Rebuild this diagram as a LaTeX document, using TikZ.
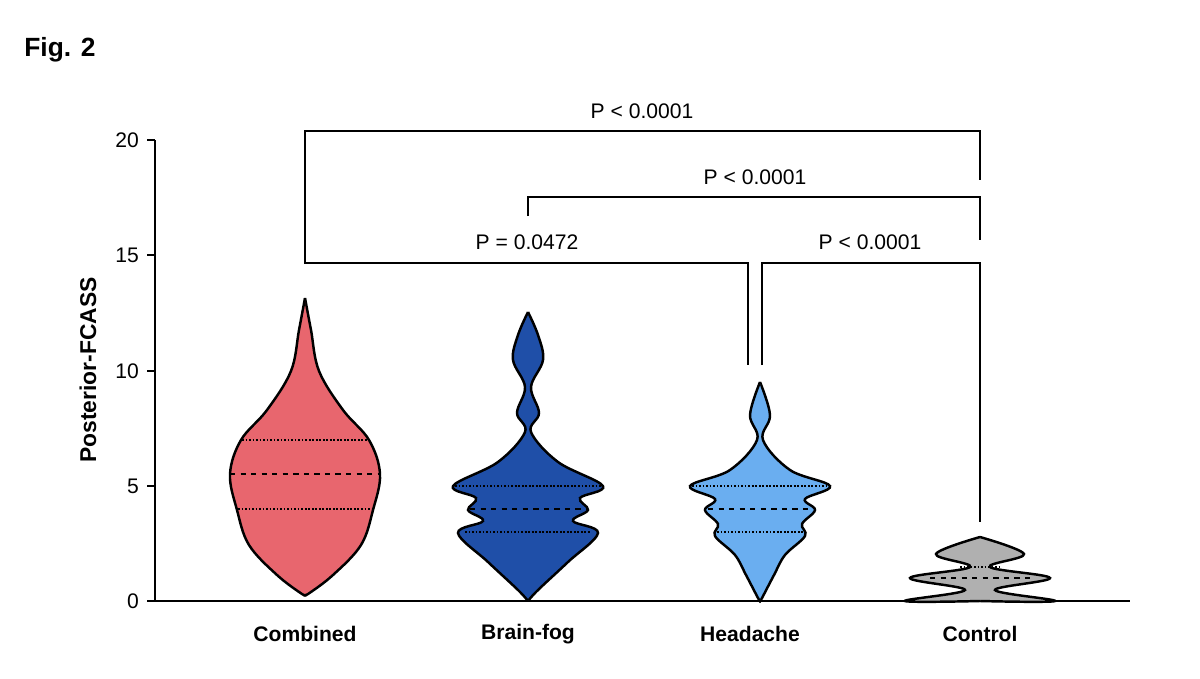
\documentclass[tikz,border=0pt]{standalone}
\usepackage{fontspec}
\setmainfont{Liberation Sans}
\definecolor{combcol}{HTML}{E8666E}
\definecolor{fogcol}{HTML}{1F4FA8}
\definecolor{headcol}{HTML}{6AAEF0}
\definecolor{ctrlcol}{HTML}{B0B0B0}
\newcommand{\halfviolin}[3]{% color, x center, smooth coordinates
  \foreach \sgn in {1,-1}{
    \begin{scope}[shift={(#2,0)},xscale=\sgn]
      \fill[#1] plot[smooth,tension=0.6] coordinates {#3} -- cycle;
      \draw[line width=1.4pt] plot[smooth,tension=0.6] coordinates {#3};
    \end{scope}}}
\begin{document}
\begin{tikzpicture}[x=0.02cm,y=-0.02cm]
\tikzset{quart/.style={densely dotted,line width=1pt},
         median/.style={dashed,line width=1.5pt},
         brk/.style={line width=0.8pt},
         ptxt/.style={font=\fontsize{12}{14}\selectfont}}
\useasboundingbox (0,0) rectangle (1200,679);
\node[font=\bfseries\fontsize{15}{18}\selectfont] (fig) at (60,50) {Fig. 2};
% axes
\draw[line width=1.2pt] (155,140) -- (155,601) -- (1130,601);
\foreach \v/\py in {0/601,5/486,10/371,15/255,20/140}{
  \draw[line width=1.2pt] (147,\py) -- (155,\py);
  \node[anchor=east,font=\fontsize{12}{14}\selectfont] (t\v) at (145,\py) {\v};}
\node[rotate=90,font=\bfseries\fontsize{13}{15}\selectfont] (ylab) at (88,370) {Posterior-FCASS};
% violins
\halfviolin{combcol}{305}{(0,298) (6,330) (14,371) (38,410) (64,440) (75,474) (68,510) (56,545) (28,575) (3,594) (0,594)}
\halfviolin{fogcol}{528}{(0,312) (10,335) (15,360) (3,387) (11,413) (3,432) (30,462) (75,486) (52,498) (60,510) (45,521) (70,533) (40,562) (10,590) (0,601)}
\halfviolin{headcol}{760}{(0,382) (10,415) (3,440) (30,470) (70,486) (45,499) (55,510) (42,524) (45,536) (25,555) (14,575) (2,598) (0,601)}
\halfviolin{ctrlcol}{980}{(0,537) (44,554) (10,567) (70,578) (15,590) (75,601) (0,601)}
% quartiles
\draw[quart] (242,440) -- (368,440) (238,509) -- (372,509);
\draw[median] (230,474) -- (380,474);
\draw[quart] (455,486) -- (601,486) (465,532) -- (591,532);
\draw[median] (470,509) -- (586,509);
\draw[quart] (692,486) -- (828,486) (717,532) -- (803,532);
\draw[median] (708,509) -- (812,509);
\draw[quart] (960,567) -- (1000,567);
\draw[median] (930,578) -- (1030,578);
% category labels
\foreach \n/\cx/\lab in {cA/305/Combined,cB/528/Brain-fog,cC/750/Headache,cD/980/Control}
  \node[font=\bfseries\fontsize{12}{14}\selectfont] (\n) at (\cx,634) {\lab};
% brackets
\coordinate (b1l) at (305,245); \coordinate (b1r) at (980,180);
\draw[brk] (b1l) |- (642,131) -| (b1r);
\node[ptxt] (p1) at (642,111) {P < 0.0001};
\coordinate (b2l) at (528,216); \coordinate (b2r) at (980,240);
\draw[brk] (b2l) |- (755,197) -| (b2r);
\node[ptxt] (p2) at (755,177) {P < 0.0001};
\coordinate (b3l) at (305,245); \coordinate (b3r) at (748,365);
\draw[brk] (b3l) |- (527,263) -| (b3r);
\node[ptxt] (p3) at (527,242) {P = 0.0472};
\coordinate (b4l) at (762,365); \coordinate (b4r) at (980,522);
\draw[brk] (b4l) |- (870,263) -| (b4r);
\node[ptxt] (p4) at (870,242) {P < 0.0001};
\end{tikzpicture}
\end{document}
